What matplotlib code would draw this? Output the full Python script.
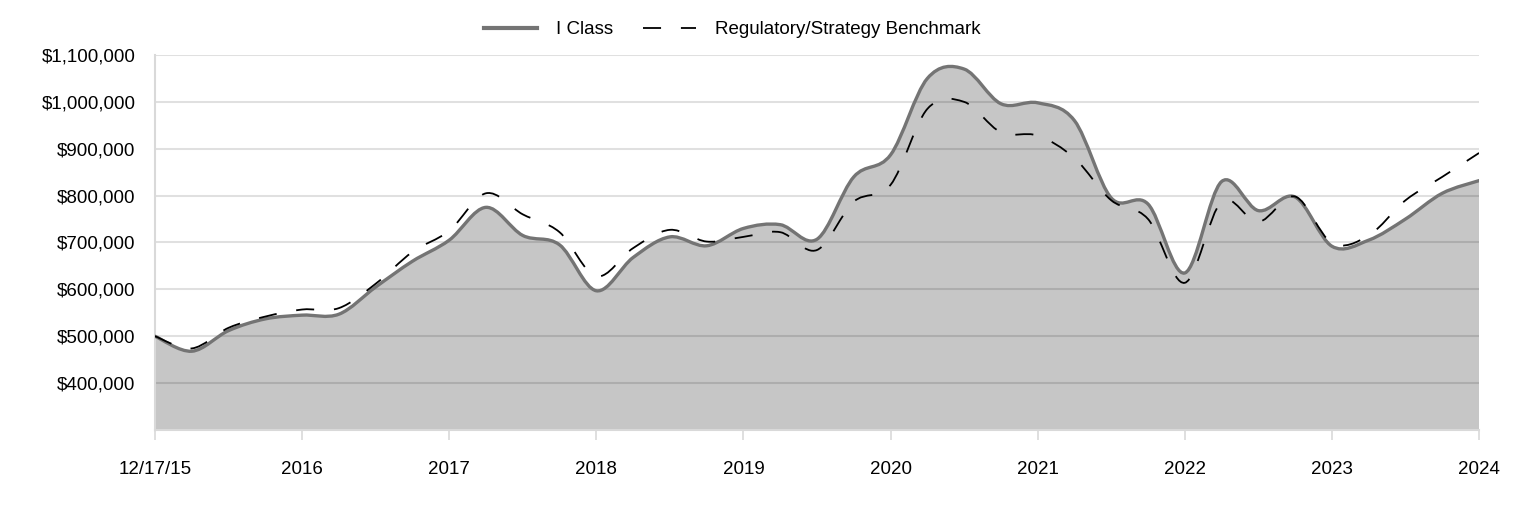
import matplotlib.pyplot as plt
import numpy as np
from matplotlib.path import Path
from matplotlib.patches import PathPatch
from matplotlib.lines import Line2D
from matplotlib.ticker import FuncFormatter

plt.rcParams['font.family'] = ['Liberation Sans', 'DejaVu Sans']

# --- data (quarterly, in $) ---
x_ticks = [0, 1, 2, 3, 4, 5, 6, 7, 8, 9]
x_labels = ['12/17/15', '2016', '2017', '2018', '2019', '2020', '2021', '2022', '2023', '2024']
quarters = np.arange(37) * 0.25

i_class = np.array([
    500, 468, 512, 537, 545, 547, 605, 660, 705, 775,
    715, 695, 597, 668, 712, 693, 730, 738, 707, 840,
    887, 1050, 1070, 996, 998, 960, 795, 782, 635, 830,
    768, 797, 692, 705, 750, 805, 832]) * 1000

benchmark = np.array([
    500, 474, 518, 542, 557, 560, 612, 680, 725, 805,
    760, 722, 628, 688, 727, 702, 712, 722, 684, 787,
    823, 985, 1000, 935, 928, 880, 790, 750, 614, 787,
    744, 798, 699, 715, 790, 840, 891]) * 1000

y_ticks = [400000, 500000, 600000, 700000, 800000, 900000, 1000000, 1100000]


def smooth_path(x, y):
    # Catmull-Rom through the points, as cubic Bezier segments
    verts = [(x[0], y[0])]
    codes = [Path.MOVETO]
    n = len(x)
    for i in range(n - 1):
        x0, y0 = (x[i - 1], y[i - 1]) if i > 0 else (x[i], y[i])
        x3, y3 = (x[i + 2], y[i + 2]) if i + 2 < n else (x[i + 1], y[i + 1])
        x1, y1 = x[i], y[i]
        x2, y2 = x[i + 1], y[i + 1]
        c1 = (x1 + (x2 - x0) / 6, y1 + (y2 - y0) / 6)
        c2 = (x2 - (x3 - x1) / 6, y2 - (y3 - y1) / 6)
        verts += [c1, c2, (x2, y2)]
        codes += [Path.CURVE4] * 3
    return verts, codes


fig = plt.figure(figsize=(15.24, 5.16), dpi=100)
ax = fig.add_axes([0.1017, 0.1667, 0.8688, 0.7267])

ymin, ymax = 300000, 1100000

# filled area under I Class
v, c = smooth_path(quarters, i_class)
fill_verts = v + [(quarters[-1], ymin), (quarters[0], ymin), (quarters[0], i_class[0])]
fill_codes = c + [Path.LINETO, Path.LINETO, Path.CLOSEPOLY]
ax.add_patch(PathPatch(Path(fill_verts, fill_codes), facecolor='#c6c6c6',
                       edgecolor='none', zorder=1))

# gridlines drawn over the fill
for t in y_ticks:
    ax.axhline(t, color='black', alpha=0.12, lw=1.5, zorder=2)

ax.add_patch(PathPatch(Path(v, c), facecolor='none', edgecolor='#747474',
                       lw=2.4, zorder=4, capstyle='round', joinstyle='round'))

vb, cb = smooth_path(quarters, benchmark)
ax.add_patch(PathPatch(Path(vb, cb), facecolor='none', edgecolor='black',
                       lw=1.3, linestyle=(0, (10, 11)), zorder=5))

ax.set_xlim(0, 9)
ax.set_ylim(ymin, ymax)
ax.set_yticks(y_ticks)
ax.yaxis.set_major_formatter(FuncFormatter(lambda v, p: '${:,.0f}'.format(v)))
ax.set_xticks(x_ticks)
ax.set_xticklabels(x_labels)

ax.tick_params(axis='y', length=0, pad=14, labelsize=13.5)
ax.tick_params(axis='x', length=7, width=1.2, color='#d9d9d9', pad=15.5, labelsize=13.5)

for s in ['top', 'right']:
    ax.spines[s].set_visible(False)
for s in ['left', 'bottom']:
    ax.spines[s].set_color('#d9d9d9')
    ax.spines[s].set_linewidth(1.5)

handles = [Line2D([], [], color='#747474', lw=3),
           Line2D([], [], color='black', lw=1.3, linestyle=(0, (10, 11)))]
fig.legend(handles, ['I Class', 'Regulatory/Strategy Benchmark'], loc='upper center',
           bbox_to_anchor=(0.4805, 0.992), ncol=2, frameon=False, fontsize=13.5,
           handlelength=2.85, columnspacing=1.6, handletextpad=1.0)

fig.savefig('out.png', dpi=100)
